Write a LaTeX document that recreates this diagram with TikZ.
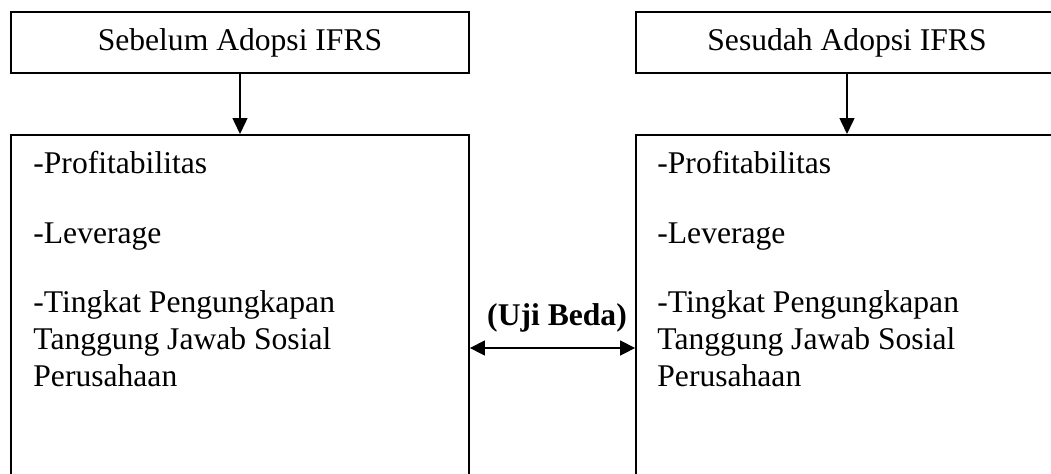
\documentclass[tikz,border=0pt]{standalone}
\usepackage{fontspec}
\setmainfont{Liberation Serif}
\usetikzlibrary{arrows.meta,calc}
\begin{document}
\begin{tikzpicture}[x=0.5pt,y=-0.5pt,
  font=\fontsize{15.8pt}{19pt}\selectfont,
  topbox/.style={draw,line width=0.9pt,inner sep=0pt,minimum height=30.5pt},
  bigbox/.style={draw,line width=0.9pt,inner sep=0pt,minimum height=200pt},
  itemtext/.style={anchor=base west,inner sep=0pt},
  conn/.style={line width=0.75pt,-{Triangle[length=8pt,width=7.5pt]}},
  dconn/.style={line width=0.75pt,{Triangle[length=7.5pt,width=7.5pt]}-{Triangle[length=7.5pt,width=7.5pt]}}]
\path[use as bounding box] (0,0) rectangle (1051,473);
\clip (0,0) rectangle (1051,473);
% top boxes
\node[topbox,minimum width=229pt] (tl) at (240,42.5) {Sebelum Adopsi IFRS};
\node[topbox,minimum width=211pt] (tr) at (847,42.5) {Sesudah Adopsi IFRS};
% big boxes (extend below the picture)
\node[bigbox,minimum width=229pt,anchor=north] (bl) at (240,134) {};
\node[bigbox,minimum width=211pt,anchor=north] (br) at (847,134) {};
% arrows
\draw[conn] (tl.south) -- (bl.north);
\draw[conn] (tr.south) -- (br.north);
% left texts
\node[itemtext] (l1) at (33,173) {-Profitabilitas};
\node[itemtext] (l2) at (33,243) {-Leverage};
\node[itemtext] (l3) at (33,312) {-Tingkat Pengungkapan};
\node[itemtext] (l4) at (33,349) {Tanggung Jawab Sosial};
\node[itemtext] (l5) at (33,386) {Perusahaan};
% right texts
\node[itemtext] (r1) at (657,173) {-Profitabilitas};
\node[itemtext] (r2) at (657,243) {-Leverage};
\node[itemtext] (r3) at (657,312) {-Tingkat Pengungkapan};
\node[itemtext] (r4) at (657,349) {Tanggung Jawab Sosial};
\node[itemtext] (r5) at (657,386) {Perusahaan};
% comparison arrow
\coordinate (m) at (553,348);
\draw[dconn] (bl.east |- m) -- (br.west |- m);
\node[anchor=base,inner sep=0pt,font=\fontsize{15.8pt}{19pt}\selectfont\bfseries] (uji) at (557,325) {(Uji Beda)};
\end{tikzpicture}
\end{document}
